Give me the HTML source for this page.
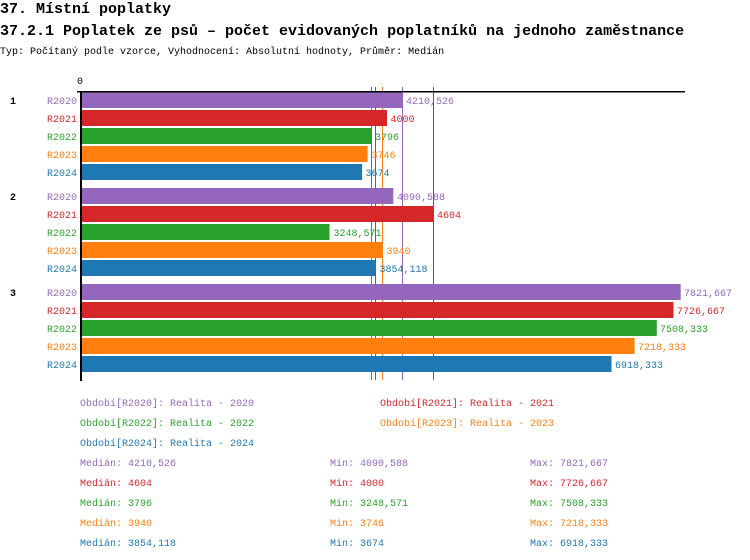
<!DOCTYPE html>
<html><head><meta charset="utf-8"><style>
html,body{margin:0;padding:0;background:#fff;width:750px;height:560px;overflow:hidden}
svg{display:block}
text{font-family:"Liberation Mono",monospace;font-size:10px}
.t{font-size:15px;font-weight:bold;fill:#000}
.pu{fill:#9467bd}.rd{fill:#d62728}.gr{fill:#2ca02c}.or{fill:#ff7f0e}.bl{fill:#1f77b4}
</style></head><body>
<svg width="750" height="560" viewBox="0 0 750 560" xmlns="http://www.w3.org/2000/svg">
<text class="t" x="0" y="13">37. Místní poplatky</text>
<text class="t" x="0" y="35">37.2.1 Poplatek ze psů – počet evidovaných poplatníků na jednoho zaměstnance</text>
<text x="0" y="54" fill="#000">Typ: Počítaný podle vzorce, Vyhodnocení: Absolutní hodnoty, Průměr: Medián</text>

<text x="80" y="84" text-anchor="middle" fill="#000" font-size="9">0</text>

<!-- median lines -->
<g stroke-width="1">
<line x1="371.5" y1="87" x2="371.5" y2="380" stroke="#2ca02c"/>
<line x1="375.5" y1="87" x2="375.5" y2="380" stroke="#1f77b4"/>
<line x1="382.5" y1="87" x2="382.5" y2="380" stroke="#ff7f0e"/>
<line x1="402.5" y1="87" x2="402.5" y2="380" stroke="#9467bd"/>
<line x1="433.5" y1="87" x2="433.5" y2="380" stroke="#d62728"/>
</g>

<!-- group labels -->
<text x="10" y="104" font-weight="bold" fill="#000">1</text>
<text x="10" y="200" font-weight="bold" fill="#000">2</text>
<text x="10" y="296" font-weight="bold" fill="#000">3</text>

<!-- group 1 -->
<rect x="82" y="92" width="320.5" height="16" fill="#9467bd"/>
<rect x="82" y="110" width="305" height="16" fill="#d62728"/>
<rect x="82" y="128" width="289.5" height="16" fill="#2ca02c"/>
<rect x="82" y="146" width="285.6" height="16" fill="#ff7f0e"/>
<rect x="82" y="164" width="280.1" height="16" fill="#1f77b4"/>
<text class="pu" x="77" y="104" text-anchor="end">R2020</text>
<text class="rd" x="77" y="122" text-anchor="end">R2021</text>
<text class="gr" x="77" y="140" text-anchor="end">R2022</text>
<text class="or" x="77" y="158" text-anchor="end">R2023</text>
<text class="bl" x="77" y="176" text-anchor="end">R2024</text>
<text class="pu" x="406" y="104">4210,526</text>
<text class="rd" x="390.5" y="122">4000</text>
<text class="gr" x="375" y="140">3796</text>
<text class="or" x="371.5" y="158">3746</text>
<text class="bl" x="365.5" y="176">3674</text>

<!-- group 2 -->
<rect x="82" y="188" width="311.3" height="16" fill="#9467bd"/>
<rect x="82" y="206" width="351.3" height="16" fill="#d62728"/>
<rect x="82" y="224" width="247.5" height="16" fill="#2ca02c"/>
<rect x="82" y="242" width="300.5" height="16" fill="#ff7f0e"/>
<rect x="82" y="260" width="293.9" height="16" fill="#1f77b4"/>
<text class="pu" x="77" y="200" text-anchor="end">R2020</text>
<text class="rd" x="77" y="218" text-anchor="end">R2021</text>
<text class="gr" x="77" y="236" text-anchor="end">R2022</text>
<text class="or" x="77" y="254" text-anchor="end">R2023</text>
<text class="bl" x="77" y="272" text-anchor="end">R2024</text>
<text class="pu" x="397" y="200">4090,588</text>
<text class="rd" x="437" y="218">4604</text>
<text class="gr" x="333.5" y="236">3248,571</text>
<text class="or" x="386.5" y="254">3940</text>
<text class="bl" x="379.5" y="272">3854,118</text>

<!-- group 3 -->
<rect x="82" y="284" width="598.7" height="16" fill="#9467bd"/>
<rect x="82" y="302" width="591.5" height="16" fill="#d62728"/>
<rect x="82" y="320" width="574.8" height="16" fill="#2ca02c"/>
<rect x="82" y="338" width="552.6" height="16" fill="#ff7f0e"/>
<rect x="82" y="356" width="529.5" height="16" fill="#1f77b4"/>
<text class="pu" x="77" y="296" text-anchor="end">R2020</text>
<text class="rd" x="77" y="314" text-anchor="end">R2021</text>
<text class="gr" x="77" y="332" text-anchor="end">R2022</text>
<text class="or" x="77" y="350" text-anchor="end">R2023</text>
<text class="bl" x="77" y="368" text-anchor="end">R2024</text>
<text class="pu" x="684" y="296">7821,667</text>
<text class="rd" x="677" y="314">7726,667</text>
<text class="gr" x="660" y="332">7508,333</text>
<text class="or" x="638" y="350">7218,333</text>
<text class="bl" x="615" y="368">6918,333</text>

<!-- axes -->
<rect x="77" y="91" width="608" height="1.5" fill="#000"/>
<rect x="80" y="91" width="2" height="290" fill="#000"/>

<!-- legend -->
<text class="pu" x="80" y="406">Období[R2020]: Realita - 2020</text>
<text class="rd" x="380" y="406">Období[R2021]: Realita - 2021</text>
<text class="gr" x="80" y="426">Období[R2022]: Realita - 2022</text>
<text class="or" x="380" y="426">Období[R2023]: Realita - 2023</text>
<text class="bl" x="80" y="446">Období[R2024]: Realita - 2024</text>

<!-- stats -->
<text class="pu" x="80" y="466">Medián: 4210,526</text>
<text class="pu" x="330" y="466">Min: 4090,588</text>
<text class="pu" x="530" y="466">Max: 7821,667</text>
<text class="rd" x="80" y="486">Medián: 4604</text>
<text class="rd" x="330" y="486">Min: 4000</text>
<text class="rd" x="530" y="486">Max: 7726,667</text>
<text class="gr" x="80" y="506">Medián: 3796</text>
<text class="gr" x="330" y="506">Min: 3248,571</text>
<text class="gr" x="530" y="506">Max: 7508,333</text>
<text class="or" x="80" y="526">Medián: 3940</text>
<text class="or" x="330" y="526">Min: 3746</text>
<text class="or" x="530" y="526">Max: 7218,333</text>
<text class="bl" x="80" y="546">Medián: 3854,118</text>
<text class="bl" x="330" y="546">Min: 3674</text>
<text class="bl" x="530" y="546">Max: 6918,333</text>
</svg>
</body></html>
